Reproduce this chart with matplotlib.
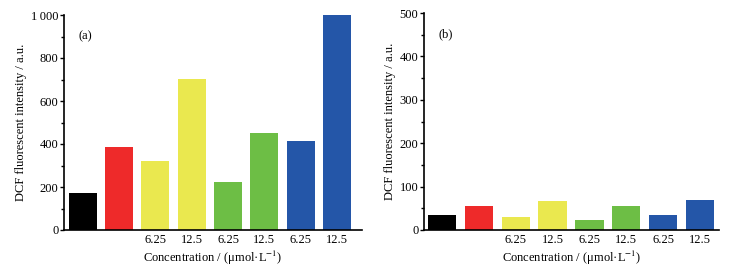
import matplotlib.pyplot as plt
import numpy as np
from matplotlib.ticker import MultipleLocator, FuncFormatter

plt.rcParams['font.family'] = ['Liberation Serif', 'DejaVu Serif']
plt.rcParams['mathtext.fontset'] = 'stix'

tick_labels = ['', '', '6.25', '12.5', '6.25', '12.5', '6.25', '12.5']
bar_colors = ['#000000', '#ee2a2a', '#eae84f', '#eae84f',
              '#6dbe45', '#6dbe45', '#2456a8', '#2456a8']
values_a = [172, 385, 322, 703, 225, 453, 416, 1000]
values_b = [35, 55, 29, 66, 24, 56, 34, 69]

xlabel = 'Concentration / (\u03bcmol\u00b7L$^{-1}$)'
ylabel = 'DCF fluorescent intensity / a.u.'


def panel(ax, values, ymax, major, tag, xlim):
    x = np.arange(len(values))
    ax.bar(x, values, width=0.77, color=bar_colors)
    ax.set_xlim(*xlim)
    ax.set_ylim(0, ymax)
    ax.yaxis.set_major_locator(MultipleLocator(major))
    ax.yaxis.set_minor_locator(MultipleLocator(major / 2))
    ax.yaxis.set_major_formatter(FuncFormatter(
        lambda v, p: '1\u2009000' if v == 1000 else '%d' % v))
    ax.set_xticks(x)
    ax.set_xticklabels(tick_labels)
    ax.tick_params(axis='x', length=0, labelsize=9, pad=3)
    ax.tick_params(axis='y', which='major', direction='out', length=3,
                   width=1, labelsize=9, pad=1)
    ax.tick_params(axis='y', which='minor', direction='out', length=2,
                   width=1)
    for s in ['top', 'right']:
        ax.spines[s].set_visible(False)
    for s in ['left', 'bottom']:
        ax.spines[s].set_linewidth(1.2)
    ax.set_xlabel(xlabel, fontsize=9, labelpad=2)
    ax.set_ylabel(ylabel, fontsize=9, labelpad=3)
    ax.text(0.05, 0.93, tag, transform=ax.transAxes, fontsize=9,
            va='top')


fig = plt.figure(figsize=(7.42, 2.7), dpi=100)
ax1 = fig.add_axes([64 / 742, 40 / 270, 298 / 742, 215 / 270])
ax2 = fig.add_axes([424 / 742, 40 / 270, 295 / 742, 217 / 270])

panel(ax1, values_a, 1000, 200, '(a)', (-0.52, 7.69))
panel(ax2, values_b, 500, 100, '(b)', (-0.49, 7.52))

fig.savefig('out.png', dpi=100)
